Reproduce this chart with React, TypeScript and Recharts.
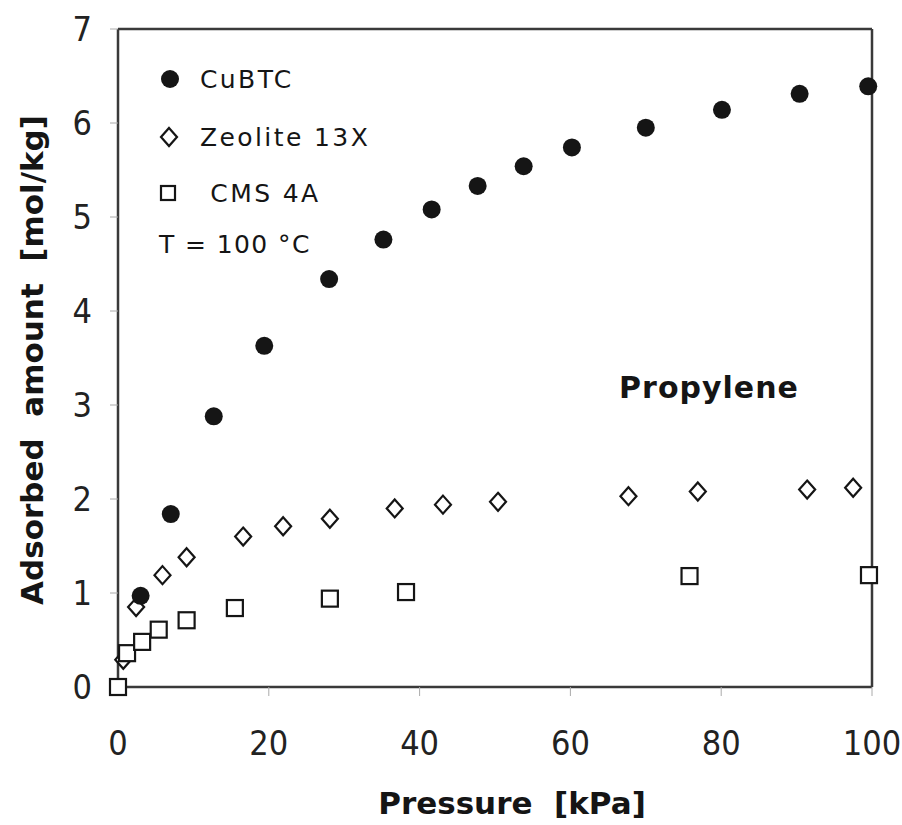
import { ScatterChart, Scatter, XAxis, YAxis, ReferenceLine } from 'recharts'

// CuBTC (filled circles)
const cubtcPressure = [3.0, 7.0, 12.7, 19.4, 28.0, 35.2, 41.6, 47.7, 53.8, 60.2, 70.0, 80.1, 90.4, 99.5]
const cubtcAmount = [0.97, 1.84, 2.88, 3.63, 4.34, 4.76, 5.08, 5.33, 5.54, 5.74, 5.95, 6.14, 6.31, 6.39]

// Zeolite 13X (open diamonds)
const zeolitePressure = [0.7, 2.4, 5.9, 9.1, 16.6, 21.9, 28.1, 36.7, 43.1, 50.4, 67.7, 76.9, 91.4, 97.5]
const zeoliteAmount = [0.29, 0.85, 1.19, 1.38, 1.6, 1.71, 1.79, 1.9, 1.94, 1.97, 2.03, 2.08, 2.1, 2.12]

// CMS 4A (open squares)
const cmsPressure = [0, 1.2, 3.2, 5.4, 9.1, 15.5, 28.1, 38.2, 75.8, 99.6]
const cmsAmount = [0, 0.36, 0.48, 0.61, 0.71, 0.84, 0.94, 1.01, 1.18, 1.19]

const xTicks = [0, 20, 40, 60, 80, 100]
const yTicks = [0, 1, 2, 3, 4, 5, 6, 7]

const toPoints = (xs: number[], ys: number[]) => xs.map((x, i) => ({ x, y: ys[i] }))

const cubtc = toPoints(cubtcPressure, cubtcAmount)
const zeolite = toPoints(zeolitePressure, zeoliteAmount)
const cms = toPoints(cmsPressure, cmsAmount)

const INK = '#151515'
const AXIS = '#3a3a3a'
const TICK_FONT = "'Liberation Sans Narrow', 'DejaVu Sans Condensed', sans-serif"
const TEXT_FONT = "'DejaVu Sans', sans-serif"

const Dot = (props: any) => <circle cx={props.cx} cy={props.cy} r={9} fill={INK} />

const Diamond = (props: any) => {
  const { cx, cy } = props
  return (
    <path
      d={`M${cx},${cy - 9} L${cx + 8},${cy} L${cx},${cy + 9} L${cx - 8},${cy} Z`}
      fill="#fff"
      stroke={INK}
      strokeWidth={2.2}
    />
  )
}

const Square = (props: any) => {
  const { cx, cy } = props
  return <rect x={cx - 8} y={cy - 8} width={16} height={16} fill="#fff" stroke={INK} strokeWidth={2.2} />
}

const legendRows = [
  { name: 'CuBTC', marker: 'circle', y: 79 },
  { name: 'Zeolite 13X', marker: 'diamond', y: 137 },
  { name: '\u00a0CMS 4A', marker: 'square', y: 193 },
]

export default function App() {
  return (
    <div style={{ position: 'absolute', left: 0, top: 0, width: 902, height: 825, background: '#fff' }}>
      <ScatterChart width={902} height={825} margin={{ top: 29, right: 30, bottom: 78, left: 58 }}>
        <XAxis
          type="number"
          dataKey="x"
          domain={[0, 100]}
          ticks={xTicks}
          interval={0}
          height={60}
          axisLine={{ stroke: AXIS, strokeWidth: 2.5 }}
          tickLine={{ stroke: '#aaa' }}
          tickSize={9}
          tickMargin={35}
          tick={{ fill: '#222', fontSize: 34, fontFamily: TICK_FONT }}
        />
        <YAxis
          type="number"
          dataKey="y"
          domain={[0, 7]}
          ticks={yTicks}
          interval={0}
          width={60}
          axisLine={{ stroke: AXIS, strokeWidth: 2.5 }}
          tickLine={{ stroke: '#aaa' }}
          tickSize={8}
          tickMargin={18}
          tick={{ fill: '#222', fontSize: 34, fontFamily: TICK_FONT }}
        />
        <ReferenceLine y={7} stroke={AXIS} strokeWidth={2.5} />
        <ReferenceLine x={100} stroke={AXIS} strokeWidth={2.5} />
        <Scatter name="Zeolite 13X" data={zeolite} shape={Diamond} isAnimationActive={false} />
        <Scatter name="CMS 4A" data={cms} shape={Square} isAnimationActive={false} />
        <Scatter name="CuBTC" data={cubtc} shape={Dot} isAnimationActive={false} />
      </ScatterChart>
      <svg
        width={902}
        height={825}
        style={{ position: 'absolute', left: 0, top: 0, pointerEvents: 'none' }}
      >
        {legendRows.map(row => (
          <g key={row.name}>
            {row.marker === 'circle' && <circle cx={170} cy={row.y} r={9} fill={INK} />}
            {row.marker === 'diamond' && (
              <path
                d={`M169,${row.y - 9} L177,${row.y} L169,${row.y + 9} L161,${row.y} Z`}
                fill="#fff"
                stroke={INK}
                strokeWidth={2.2}
              />
            )}
            {row.marker === 'square' && (
              <rect x={161} y={row.y - 7} width={14} height={14} fill="#fff" stroke={INK} strokeWidth={2.2} />
            )}
            <text
              x={200}
              y={row.y + 9}
              fontFamily={TEXT_FONT}
              fontSize={25}
              letterSpacing={2.4}
              fill={INK}
            >
              {row.name}
            </text>
          </g>
        ))}
        <text x={159} y={253} fontFamily={TEXT_FONT} fontSize={25} letterSpacing={1.4} fill={INK}>
          T = 100 °C
        </text>
        <text
          x={709}
          y={398}
          textAnchor="middle"
          fontFamily={TEXT_FONT}
          fontWeight="bold"
          fontSize={30}
          letterSpacing={1}
          fill={INK}
        >
          Propylene
        </text>
        <text
          x={512}
          y={814}
          textAnchor="middle"
          fontFamily={TEXT_FONT}
          fontWeight="bold"
          fontSize={31}
          fill={INK}
        >
          {'Pressure\u00a0\u00a0[kPa]'}
        </text>
        <text
          transform="translate(43, 360) rotate(-90)"
          textAnchor="middle"
          fontFamily={TEXT_FONT}
          fontWeight="bold"
          fontSize={31}
          fill={INK}
        >
          {'Adsorbed\u00a0\u00a0amount\u00a0\u00a0[mol/kg]'}
        </text>
      </svg>
    </div>
  )
}
